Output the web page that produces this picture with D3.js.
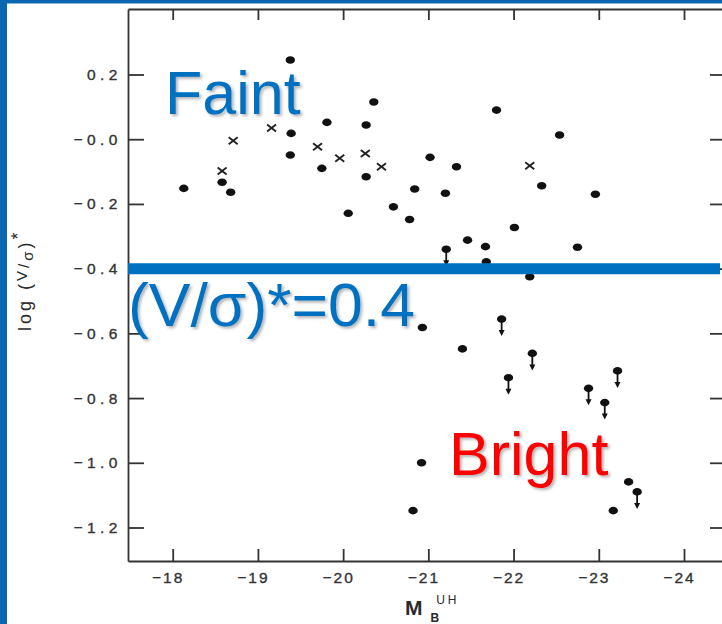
<!DOCTYPE html>
<html>
<head>
<meta charset="utf-8">
<script src="https://cdn.jsdelivr.net/npm/d3@7"></script>
<style>
  html, body { margin: 0; padding: 0; background: #fff; }
  svg { display: block; }
</style>
</head>
<body>
<svg id="chart" width="722" height="624"></svg>
<script>
// ---- data ----
const xTickValues = [-18, -19, -20, -21, -22, -23, -24];
const yTickValues = [0.2, 0.0, -0.2, -0.4, -0.6, -0.8, -1.0, -1.2];
const yTickLabels = ["0.2", "−0.0", "−0.2", "−0.4", "−0.6", "−0.8", "−1.0", "−1.2"];

// filled circles: absolute magnitude M_B, log(V/sigma)*, upper-limit flag
const dotM = [-19.38, -20.36, -19.81, -20.27, -19.39, -19.38, -19.75, -20.27, -21.02, -18.13,
              -18.58, -18.68, -20.84, -20.06, -20.59, -20.78, -21.80, -22.54, -21.33, -21.20,
              -22.33, -22.96, -22.01, -21.46, -21.67, -21.21, -22.75, -21.68, -22.19, -20.93,
              -21.40, -21.86, -22.22, -21.94, -22.88, -23.07, -23.22, -20.92, -20.82, -23.17,
              -23.35, -23.45];
const dotV = [0.245, 0.115, 0.052, 0.044, 0.018, -0.049, -0.09, -0.116, -0.056, -0.152,
              -0.133, -0.164, -0.154, -0.229, -0.209, -0.248, 0.09, 0.013, -0.085, -0.167,
              -0.144, -0.17, -0.273, -0.312, -0.332, -0.34, -0.334, -0.379, -0.425, -0.582,
              -0.648, -0.556, -0.662, -0.737, -0.77, -0.814, -0.716, -1.0, -1.148, -1.148,
              -1.059, -1.09];
const dotLimit = [0, 0, 0, 0, 0, 0, 0, 0, 0, 0,
                  0, 0, 0, 0, 0, 0, 0, 0, 0, 0,
                  0, 0, 0, 0, 0, 1, 0, 0, 0, 0,
                  0, 1, 1, 1, 1, 1, 1, 0, 0, 0,
                  0, 1];

// crosses
const crossM = [-19.16, -18.71, -19.70, -19.96, -20.26, -20.45, -18.58, -22.19];
const crossV = [0.035, -0.005, -0.023, -0.059, -0.044, -0.085, -0.098, -0.082];

const threshold = -0.4;

// ---- layout ----
const svg = d3.select("#chart");
const frame = { left: 128, right: 723, top: 9, bottom: 561 };

// scales: -18 at 172.7px, -24 at 684px ; 0.2 at 74.5px, -1.2 at 527.5px
const pxPerMag = (684 - 172.7) / 6;
const pxPerV = (527.5 - 74.5) / 1.4;
const x = d3.scaleLinear()
  .domain([-18 + (172.7 - frame.left) / pxPerMag, -18 - (frame.right - 172.7) / pxPerMag])
  .range([frame.left, frame.right]);
const y = d3.scaleLinear()
  .domain([0.2 + (74.5 - frame.top) / pxPerV, -1.2 - (frame.bottom - 527.5) / pxPerV])
  .range([frame.top, frame.bottom]);

// blue slide border
svg.append("rect").attr("x", 0).attr("y", 0).attr("width", 722).attr("height", 3.5).attr("fill", "#0B67B2");
svg.append("rect").attr("x", 0).attr("y", 0).attr("width", 7).attr("height", 624).attr("fill", "#0B67B2");

// defs: drop shadow
const defs = svg.append("defs");
const f = defs.append("filter").attr("id", "shadow").attr("x", "-10%").attr("y", "-10%").attr("width", "130%").attr("height", "140%");
f.append("feDropShadow").attr("dx", 2).attr("dy", 2).attr("stdDeviation", 1.5)
  .attr("flood-color", "#000").attr("flood-opacity", 0.3);

const axisColor = "#333";
const tickFont = "'Liberation Sans', Arial, sans-serif";

function styleAxis(g) {
  g.selectAll("path.domain").attr("stroke", axisColor).attr("stroke-width", 1.8);
  g.selectAll(".tick line").attr("stroke", axisColor).attr("stroke-width", 1.8);
  g.selectAll(".tick text").attr("fill", "#333").attr("font-family", tickFont)
    .attr("font-size", 15.5).attr("stroke", "#333").attr("stroke-width", 0.35);
}

// bottom axis
const gx = svg.append("g").attr("transform", `translate(0,${frame.bottom})`)
  .call(d3.axisBottom(x).tickValues(xTickValues).tickSizeInner(-12).tickSizeOuter(0).tickPadding(11)
    .tickFormat(d => "−" + Math.abs(d)));
styleAxis(gx);
gx.selectAll(".tick text").attr("dx", -5).attr("letter-spacing", 2);

// top axis
const gt = svg.append("g").attr("transform", `translate(0,${frame.top})`)
  .call(d3.axisTop(x).tickValues(xTickValues).tickSizeInner(-11).tickSizeOuter(0).tickFormat(""));
styleAxis(gt);

// left axis
const gy = svg.append("g").attr("transform", `translate(${frame.left},0)`)
  .call(d3.axisLeft(y).tickValues(yTickValues).tickSizeInner(-16).tickSizeOuter(0).tickPadding(6)
    .tickFormat((d, i) => yTickLabels[i]));
styleAxis(gy);
gy.selectAll(".tick text").attr("letter-spacing", 4.5);

// right axis
const gr = svg.append("g").attr("transform", `translate(${frame.right},0)`)
  .call(d3.axisRight(y).tickValues(yTickValues).tickSizeInner(-13).tickSizeOuter(0).tickFormat(""));
styleAxis(gr);

// axis titles
const xt = svg.append("text").attr("x", 405).attr("y", 615)
  .attr("font-family", tickFont).attr("fill", "#2a2a2a");
xt.append("tspan").attr("font-size", 21).attr("font-weight", "bold").text("M");
xt.append("tspan").attr("font-size", 12).attr("dy", 7).attr("dx", 8).attr("font-weight", "bold").text("B");
xt.append("tspan").attr("font-size", 12).attr("dy", -18).attr("dx", -3).attr("letter-spacing", 3).text("UH");

const yt = svg.append("text").attr("transform", "translate(31,331) rotate(-90)")
  .attr("font-family", tickFont).attr("fill", "#2a2a2a").attr("font-size", 18)
  .attr("letter-spacing", 3);
yt.append("tspan").text("log (");
yt.append("tspan").attr("dy", -4).attr("font-size", 15).text("V");
yt.append("tspan").attr("dy", 2).attr("font-size", 15).text("/");
yt.append("tspan").attr("dy", 4).attr("font-size", 15).text("σ");
yt.append("tspan").attr("dy", -2).text(")");
yt.append("tspan").attr("dy", -7).text("*");

// points
const dots = dotM.map((m, i) => ({ m, v: dotV[i], lim: dotLimit[i] }));
const crosses = crossM.map((m, i) => ({ m, v: crossV[i] }));

const gp = svg.append("g");
const lim = gp.selectAll("g.lim").data(dots.filter(d => d.lim)).join("g").attr("class", "lim")
  .attr("transform", d => `translate(${x(d.m)},${y(d.v)})`);
lim.append("line").attr("x1", 0).attr("x2", 0).attr("y1", 0).attr("y2", 12)
  .attr("stroke", "#111").attr("stroke-width", 1.8);
lim.append("path").attr("d", "M-3,11 L3,11 L0,17 Z").attr("fill", "#111");

gp.selectAll("ellipse").data(dots).join("ellipse")
  .attr("cx", d => x(d.m)).attr("cy", d => y(d.v))
  .attr("rx", 4.7).attr("ry", 3.8).attr("fill", "#111");

const cg = gp.selectAll("g.cross").data(crosses).join("g").attr("class", "cross")
  .attr("transform", d => `translate(${x(d.m)},${y(d.v)})`);
cg.append("line").attr("x1", -4.5).attr("y1", -3.5).attr("x2", 4.5).attr("y2", 3.5)
  .attr("stroke", "#222").attr("stroke-width", 1.9);
cg.append("line").attr("x1", -4.5).attr("y1", 3.5).attr("x2", 4.5).attr("y2", -3.5)
  .attr("stroke", "#222").attr("stroke-width", 1.9);

// threshold line
svg.append("line")
  .attr("x1", frame.left).attr("x2", 720)
  .attr("y1", y(threshold)).attr("y2", y(threshold))
  .attr("stroke", "#0070C0").attr("stroke-width", 11);

// annotations
const annFont = "'Liberation Sans', Arial, sans-serif";
svg.append("text").attr("x", 165).attr("y", 114).attr("font-family", annFont)
  .attr("font-size", 61).attr("fill", "#0070C0").attr("filter", "url(#shadow)").text("Faint");
svg.append("text").attr("x", 128).attr("y", 326).attr("font-family", annFont)
  .attr("font-size", 62).attr("fill", "#0070C0").attr("filter", "url(#shadow)")
  .attr("textLength", 287).attr("lengthAdjust", "spacingAndGlyphs").text("(V/σ)*=0.4");
svg.append("text").attr("x", 449).attr("y", 475).attr("font-family", annFont)
  .attr("font-size", 61).attr("fill", "#FF0000").attr("filter", "url(#shadow)").text("Bright");
</script>
</body>
</html>
